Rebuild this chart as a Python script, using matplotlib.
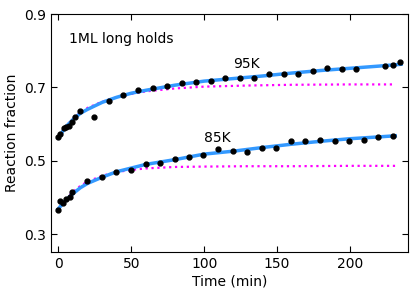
import numpy as np
import matplotlib
matplotlib.use('Agg')
import matplotlib.pyplot as plt

# measured points, 95K
t95 = [0, 1.4, 3.6, 5.5, 7.3, 9.3, 11.6, 14.6, 24.4, 34.5, 44.5, 54.5, 64.6,
       74.7, 84.7, 94.5, 104.5, 114.6, 124.5, 134.5, 144.5, 154.5, 164.6,
       174.4, 184.5, 194.5, 204.3, 224.2, 229.4, 234.4]
y95 = [0.565, 0.572, 0.588, 0.592, 0.595, 0.605, 0.618, 0.635, 0.618, 0.662,
       0.678, 0.693, 0.698, 0.704, 0.713, 0.714, 0.718, 0.725, 0.726, 0.726,
       0.736, 0.737, 0.737, 0.745, 0.753, 0.750, 0.750, 0.759, 0.760, 0.770]

# measured points, 85K
t85 = [0, 1.4, 3.2, 5.5, 7.7, 9.6, 19.6, 29.7, 39.7, 49.7, 59.8, 69.9, 79.9,
       89.7, 99.5, 109.6, 119.6, 129.4, 139.5, 149.5, 159.6, 169.4, 179.5,
       189.5, 199.3, 209.3, 219.4, 229.5]
y85 = [0.365, 0.390, 0.385, 0.395, 0.402, 0.414, 0.444, 0.455, 0.469, 0.474,
       0.492, 0.495, 0.505, 0.511, 0.516, 0.531, 0.526, 0.524, 0.534, 0.536,
       0.554, 0.555, 0.556, 0.553, 0.554, 0.557, 0.566, 0.567]

# fit curves
tfit95 = [0, 5, 10, 15, 20, 30, 40, 50, 60, 80, 100, 120, 140, 160, 180, 200, 220, 235]
fit95 = [0.562, 0.592, 0.612, 0.629, 0.640, 0.659, 0.673, 0.684, 0.692, 0.706,
         0.717, 0.724, 0.731, 0.739, 0.746, 0.752, 0.758, 0.763]
tfit85 = [0, 5, 10, 15, 20, 30, 40, 50, 60, 80, 100, 120, 140, 160, 180, 200, 220, 231]
fit85 = [0.369, 0.392, 0.410, 0.426, 0.438, 0.455, 0.470, 0.480, 0.490, 0.503,
         0.518, 0.526, 0.536, 0.545, 0.553, 0.560, 0.565, 0.568]

# single exponential (dotted)
tsat = [0, 5, 10, 15, 20, 30, 40, 50, 60, 80, 100, 130, 160, 200, 231]
sat95 = [0.562, 0.593, 0.614, 0.631, 0.644, 0.661, 0.673, 0.682, 0.689, 0.697,
         0.702, 0.705, 0.707, 0.708, 0.708]
sat85 = [0.369, 0.395, 0.415, 0.431, 0.443, 0.459, 0.469, 0.475, 0.479, 0.483,
         0.484, 0.485, 0.485, 0.486, 0.486]

fig = plt.figure(figsize=(4.15, 2.98), dpi=100)
ax = fig.add_axes([0.123, 0.153, 0.861, 0.800])

blue = '#3399ff'
ax.plot(tsat, sat95, ':', color='magenta', lw=1.6)
ax.plot(tsat, sat85, ':', color='magenta', lw=1.6)
ax.plot(tfit95, fit95, '-', color=blue, lw=2.5)
ax.plot(tfit85, fit85, '-', color=blue, lw=2.5)
ax.plot(t95, y95, 'o', color='k', ms=3.5)
ax.plot(t85, y85, 'o', color='k', ms=3.5)

ax.text(7, 0.831, '1ML long holds', fontsize=10, va='center')
ax.text(119.6, 0.763, '95K', fontsize=10, va='center')
ax.text(99.7, 0.561, '85K', fontsize=10, va='center')

ax.set_xlim(-5, 240)
ax.set_ylim(0.25, 0.9)
ax.set_xticks([0, 50, 100, 150, 200])
ax.set_yticks([0.3, 0.5, 0.7, 0.9])
ax.tick_params(direction='in', top=True, right=True, labelsize=10, length=4)
ax.set_xlabel('Time (min)', fontsize=10, labelpad=2)
ax.set_ylabel('Reaction fraction', fontsize=10, labelpad=4)

fig.savefig('out.png', dpi=100)
